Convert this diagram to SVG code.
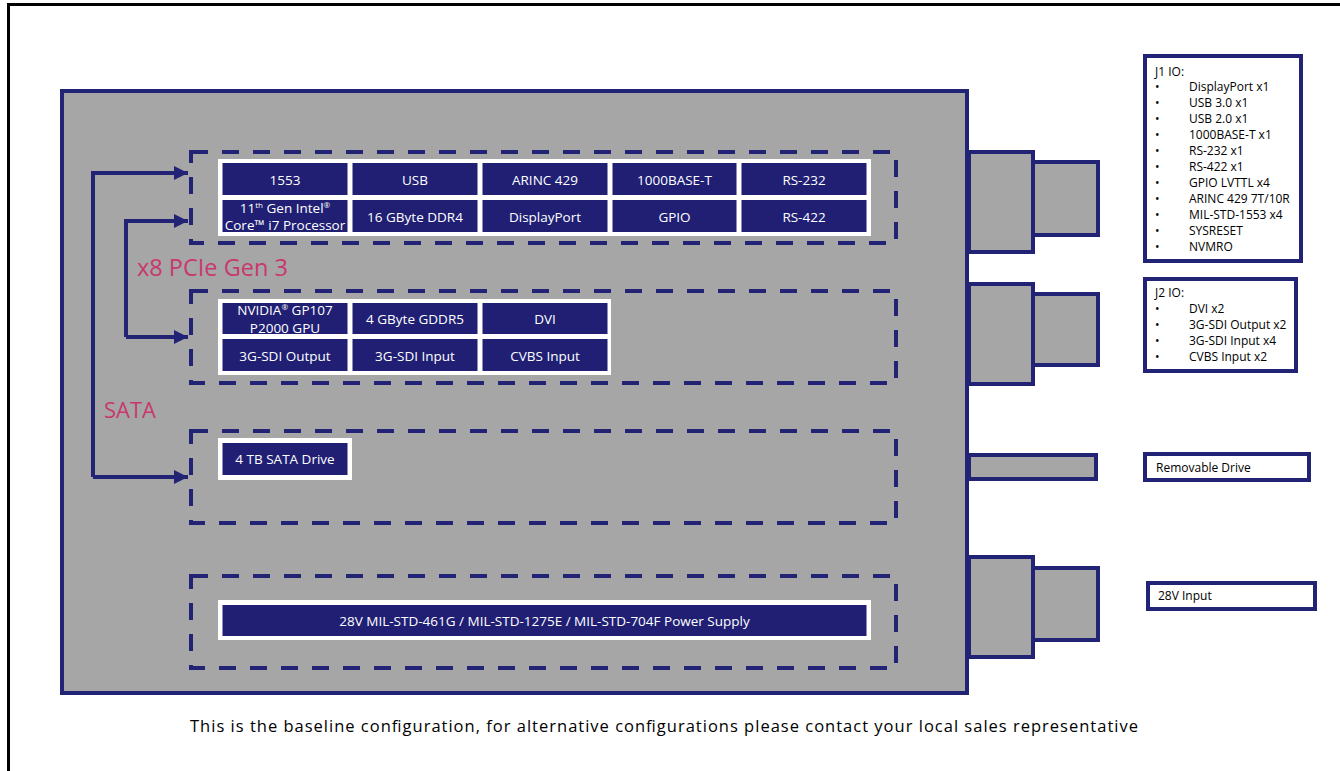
<svg xmlns="http://www.w3.org/2000/svg" width="1340" height="771" viewBox="0 0 1340 771">
<defs>
<style>
.frame{fill:none;stroke:#000;stroke-width:3}
.chassis{fill:#a6a6a6;stroke:#232376;stroke-width:4}
.dash{fill:none;stroke:#232376;stroke-width:4;stroke-dasharray:17 14}
.panel{fill:#fff}
.cell{fill:#201f74}
.ct{font-family:"Open Sans",sans-serif;font-size:13.5px;fill:#fff;text-anchor:middle;dominant-baseline:central}
.pink{font-family:"Open Sans",sans-serif;fill:#c8386e}
.iobox{fill:#fff;stroke:#232376;stroke-width:4}
.io{font-family:"Open Sans",sans-serif;font-size:12px;fill:#000;dominant-baseline:central}
.wire{fill:none;stroke:#232376;stroke-width:4}
.note{font-family:"Open Sans",sans-serif;font-size:16.5px;fill:#000}
</style>
<marker id="ah" viewBox="0 0 10 10" refX="10" refY="5" markerWidth="3.5" markerHeight="3.5" markerUnits="strokeWidth" orient="auto">
<path d="M0,0 L10,5 L0,10 z" fill="#232376"/>
</marker>
</defs>
<rect width="1340" height="771" fill="#fff"/>
<path class="frame" d="M8.5,771 V4.5 H1340"/>

<g id="chassis">
<rect class="chassis" x="62" y="91" width="905" height="602"/>
</g>

<g id="connectors-hw">
<rect class="chassis" x="969" y="152" width="64" height="100"/>
<rect class="chassis" x="1033" y="162" width="65" height="73"/>
<rect class="chassis" x="969" y="284" width="64" height="100"/>
<rect class="chassis" x="1033" y="294" width="65" height="71"/>
<rect class="chassis" x="969" y="455" width="127" height="24"/>
<rect class="chassis" x="969" y="557" width="64" height="100"/>
<rect class="chassis" x="1033" y="568" width="65" height="72"/>
</g>

<g id="slot1">
<rect class="dash" x="191" y="152" width="705" height="91"/>
<rect class="panel" x="218" y="159" width="653" height="77"/>
<rect class="cell" x="222.5" y="163" width="125" height="32"/>
<rect class="cell" x="352.5" y="163" width="125" height="32"/>
<rect class="cell" x="482.5" y="163" width="125" height="32"/>
<rect class="cell" x="612.5" y="163" width="124" height="32"/>
<rect class="cell" x="741.5" y="163" width="125" height="32"/>
<rect class="cell" x="222.5" y="200" width="125" height="32"/>
<rect class="cell" x="352.5" y="200" width="125" height="32"/>
<rect class="cell" x="482.5" y="200" width="125" height="32"/>
<rect class="cell" x="612.5" y="200" width="124" height="32"/>
<rect class="cell" x="741.5" y="200" width="125" height="32"/>
<text class="ct" x="285" y="179.5">1553</text>
<text class="ct" x="415" y="179.5">USB</text>
<text class="ct" x="545" y="179.5">ARINC 429</text>
<text class="ct" x="674.5" y="179.5">1000BASE-T</text>
<text class="ct" x="804" y="179.5">RS-232</text>
<text class="ct" x="285" y="208" font-size="12.5">11<tspan font-size="8" dy="-4">th</tspan><tspan dy="4"> Gen Intel</tspan><tspan font-size="8" dy="-4">®</tspan></text>
<text class="ct" x="285" y="225" font-size="12.5">Core™ i7 Processor</text>
<text class="ct" x="415" y="216.5">16 GByte DDR4</text>
<text class="ct" x="545" y="216.5">DisplayPort</text>
<text class="ct" x="674.5" y="216.5">GPIO</text>
<text class="ct" x="804" y="216.5">RS-422</text>
</g>

<g id="slot2">
<rect class="dash" x="191" y="291" width="705" height="92"/>
<rect class="panel" x="218" y="299" width="393" height="76"/>
<rect class="cell" x="222.5" y="303" width="125" height="31"/>
<rect class="cell" x="352.5" y="303" width="125" height="31"/>
<rect class="cell" x="482.5" y="303" width="125" height="31"/>
<rect class="cell" x="222.5" y="339" width="125" height="32"/>
<rect class="cell" x="352.5" y="339" width="125" height="32"/>
<rect class="cell" x="482.5" y="339" width="125" height="32"/>
<text class="ct" x="285" y="310">NVIDIA<tspan font-size="8" dy="-4">®</tspan><tspan dy="4"> GP107</tspan></text>
<text class="ct" x="285" y="328">P2000 GPU</text>
<text class="ct" x="415" y="319">4 GByte GDDR5</text>
<text class="ct" x="545" y="319">DVI</text>
<text class="ct" x="285" y="355.5">3G-SDI Output</text>
<text class="ct" x="415" y="355.5">3G-SDI Input</text>
<text class="ct" x="545" y="355.5">CVBS Input</text>
</g>

<g id="slot3">
<rect class="dash" x="191" y="431" width="705" height="92"/>
<rect class="panel" x="218" y="438" width="134" height="42"/>
<rect class="cell" x="222.5" y="443" width="125" height="32"/>
<text class="ct" x="285" y="459">4 TB SATA Drive</text>
</g>

<g id="slot4">
<rect class="dash" x="191" y="576" width="705" height="92"/>
<rect class="panel" x="218" y="600" width="653" height="40"/>
<rect class="cell" x="222.5" y="605" width="644" height="31"/>
<text class="ct" x="544.5" y="620.5">28V MIL-STD-461G / MIL-STD-1275E / MIL-STD-704F Power Supply</text>
</g>

<g id="connectors">
<path class="wire" d="M93,477 V173 H188" marker-end="url(#ah)"/>
<path class="wire" d="M93,477 H188" marker-end="url(#ah)"/>
<path class="wire" d="M126,337 V221 H188" marker-end="url(#ah)"/>
<path class="wire" d="M126,337 H188" marker-end="url(#ah)"/>
</g>

<g id="labels">
<text class="pink" x="137" y="276" font-size="23.5">x8 PCIe Gen 3</text>
<text class="pink" x="104" y="418" font-size="22">SATA</text>
</g>

<g id="j1">
<rect class="iobox" x="1145" y="56" width="156" height="205"/>
<text class="io" x="1155" y="71">J1 IO:</text>
<g>
<text class="io" x="1155" y="86">•</text><text class="io" x="1189" y="86">DisplayPort x1</text>
<text class="io" x="1155" y="102">•</text><text class="io" x="1189" y="102">USB 3.0 x1</text>
<text class="io" x="1155" y="118">•</text><text class="io" x="1189" y="118">USB 2.0 x1</text>
<text class="io" x="1155" y="134">•</text><text class="io" x="1189" y="134">1000BASE-T x1</text>
<text class="io" x="1155" y="150">•</text><text class="io" x="1189" y="150">RS-232 x1</text>
<text class="io" x="1155" y="166">•</text><text class="io" x="1189" y="166">RS-422 x1</text>
<text class="io" x="1155" y="182">•</text><text class="io" x="1189" y="182">GPIO LVTTL x4</text>
<text class="io" x="1155" y="198">•</text><text class="io" x="1189" y="198">ARINC 429 7T/10R</text>
<text class="io" x="1155" y="214">•</text><text class="io" x="1189" y="214">MIL-STD-1553 x4</text>
<text class="io" x="1155" y="230">•</text><text class="io" x="1189" y="230">SYSRESET</text>
<text class="io" x="1155" y="246">•</text><text class="io" x="1189" y="246">NVMRO</text>
</g>
</g>

<g id="j2">
<rect class="iobox" x="1145" y="279" width="151" height="92"/>
<text class="io" x="1155" y="292">J2 IO:</text>
<text class="io" x="1155" y="308">•</text><text class="io" x="1189" y="308">DVI x2</text>
<text class="io" x="1155" y="324">•</text><text class="io" x="1189" y="324">3G-SDI Output x2</text>
<text class="io" x="1155" y="340">•</text><text class="io" x="1189" y="340">3G-SDI Input x4</text>
<text class="io" x="1155" y="356">•</text><text class="io" x="1189" y="356">CVBS Input x2</text>
</g>

<g id="removable">
<rect class="iobox" x="1145" y="454" width="164" height="26"/>
<text class="io" x="1156" y="467">Removable Drive</text>
</g>

<g id="power-in">
<rect class="iobox" x="1148" y="583" width="167" height="26"/>
<text class="io" x="1158" y="595">28V Input</text>
</g>

<text class="note" x="190" y="732" textLength="948" lengthAdjust="spacing">This is the baseline configuration, for alternative configurations please contact your local sales representative</text>
</svg>
